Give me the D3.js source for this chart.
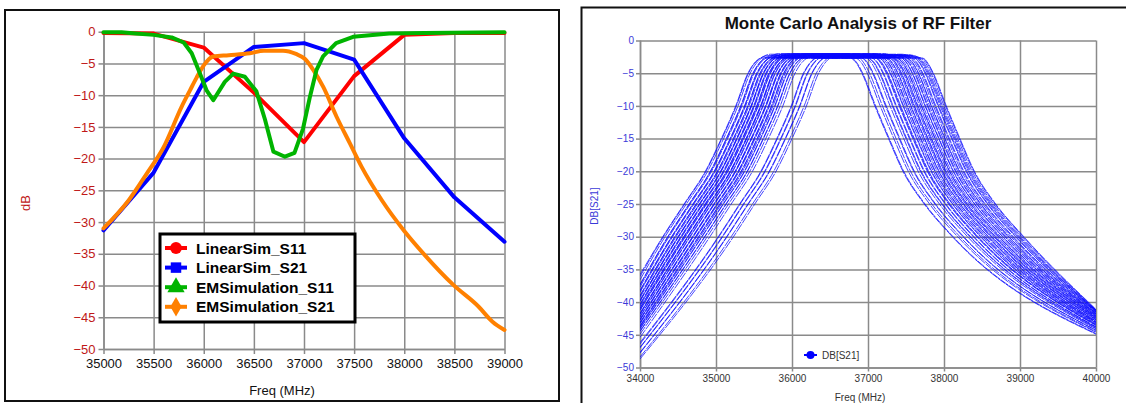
<!DOCTYPE html>
<html><head><meta charset="utf-8">
<script src="https://cdn.jsdelivr.net/npm/d3@7"></script>
<style>body{margin:0;background:#fff;} svg{display:block;font-family:Arial,"Liberation Sans",sans-serif;}</style>
</head><body><svg id="c" width="1126" height="403"></svg>
<script>
// ---------- Left chart data ----------
const linFreq = [35000, 35500, 36000, 36500, 37000, 37500, 38000, 38500, 39000];
const linS11 = [-0.2, -0.3, -2.5, -9.6, -17.4, -7.0, -0.5, -0.2, -0.2];
const linS21 = [-31.3, -22.2, -7.9, -2.4, -1.8, -4.4, -16.8, -26.1, -33.1];
const emS11Freq = [35000, 35180, 35320, 35500, 35680, 35800, 35880, 35960, 36030, 36095, 36210, 36295, 36410, 36525, 36610, 36695, 36810, 36905, 36990, 37060, 37125, 37190, 37320, 37490, 37850, 38200, 39000];
const emS11 = [-0.1, -0.1, -0.3, -0.5, -0.9, -1.7, -3.4, -6.5, -9.3, -10.8, -7.9, -6.6, -7.1, -9.4, -13.8, -18.9, -19.7, -19.1, -15.3, -10.2, -6.0, -3.9, -1.8, -0.8, -0.3, -0.2, -0.1];
const emS21Freq = [35000, 35250, 35430, 35600, 35780, 35864, 35930, 36000, 36094, 36250, 36460, 36600, 36790, 36920, 37010, 37092, 37192, 37325, 37458, 37575, 37778, 38000, 38205, 38490, 38740, 38880, 39000];
const emS21 = [-31.0, -26.6, -22.4, -18.2, -11.8, -9.2, -7.2, -5.3, -3.9, -3.7, -3.4, -3.0, -3.0, -3.5, -4.3, -6.0, -8.7, -13.4, -17.6, -21.3, -26.6, -31.4, -35.2, -39.9, -43.3, -45.7, -47.0];
const leftXTicks = [35000, 35500, 36000, 36500, 37000, 37500, 38000, 38500, 39000];
const leftYTicks = [0, -5, -10, -15, -20, -25, -30, -35, -40, -45, -50];
const legendNames = ["LinearSim_S11", "LinearSim_S21", "EMSimulation_S11", "EMSimulation_S21"];

// ---------- Right chart data (Monte Carlo traces) ----------
// skirt shapes (offset from each trace's -20 dB frequency)
const lowOffsets = [-560, -280, 0, 210, 400, 560, 640, 720];
const lowDb = [-30, -25, -20, -15, -10, -5, -3.5, -2.7];
const highOffsets = [-680, -610, -540, -370, -190, 0, 280, 650];
const highDb = [-2.7, -3.5, -5, -10, -15, -20, -25, -30];
// per-trace -20 dB frequency on the lower skirt, and value at 34000 MHz
const mcLowF20 = [34860, 34868, 34890, 34925, 34930, 34942, 34975, 34980, 34990, 35018, 35022, 35035, 35060, 35064, 35070, 35095, 35102, 35110, 35135, 35140, 35150, 35158, 35185, 35190, 35196, 35215, 35222, 35250, 35256, 35262, 35290, 35295, 35305, 35330, 35335, 35350, 35372, 35378, 35410, 35415, 35445, 35480, 35590, 35598, 35640, 35648, 35700, 35706, 35760, 35790];
const mcLowEdge = [-35.8, -36.1, -36.6, -37.3, -37.4, -37.7, -38.2, -38.3, -38.5, -39.0, -39.1, -39.3, -39.7, -39.8, -39.9, -40.3, -40.4, -40.6, -40.9, -41.0, -41.2, -41.3, -41.7, -41.8, -41.9, -42.2, -42.3, -42.6, -42.7, -42.8, -43.1, -43.2, -43.3, -43.6, -43.7, -43.8, -44.0, -44.1, -44.4, -44.5, -44.9, -45.4, -46.2, -46.4, -46.9, -47.0, -47.7, -47.8, -48.4, -48.7];
// per-trace -20 dB frequency on the upper skirt, and value at 40000 MHz
const mcHighF20 = [37460, 37470, 37530, 37560, 37600, 37610, 37660, 37690, 37700, 37735, 37745, 37780, 37790, 37800, 37830, 37838, 37860, 37880, 37888, 37910, 37930, 37936, 37960, 37975, 37982, 38005, 38020, 38028, 38050, 38070, 38076, 38095, 38120, 38126, 38150, 38160, 38180, 38200, 38206, 38230, 38250, 38262, 38290, 38300, 38320, 38335, 38350, 38370, 38390, 38400];
const mcHighEdge = [-44.9, -44.8, -44.6, -44.5, -44.3, -44.3, -44.1, -44.0, -43.9, -43.8, -43.8, -43.6, -43.5, -43.5, -43.4, -43.3, -43.2, -43.1, -43.1, -43.0, -42.9, -42.9, -42.7, -42.7, -42.6, -42.5, -42.4, -42.4, -42.3, -42.2, -42.2, -42.1, -42.0, -42.0, -41.9, -41.8, -41.8, -41.7, -41.7, -41.6, -41.5, -41.5, -41.4, -41.4, -41.3, -41.3, -41.3, -41.2, -41.2, -41.1];
// which upper skirt belongs to which trace
const mcHighOrder = [0, 25, 12, 37, 6, 31, 18, 43, 3, 28, 15, 40, 9, 34, 21, 46, 1, 26, 13, 38, 7, 32, 19, 44, 4, 29, 16, 41, 10, 35, 22, 47, 2, 27, 14, 39, 8, 33, 20, 45, 5, 30, 17, 42, 11, 36, 23, 48, 24, 49];
// passband top level of each trace
const mcTop = [-2.3, -2.1, -2.5, -2.2, -2.6, -2.4, -2.0, -2.3, -2.7, -2.2, -2.4, -2.1, -2.5, -2.3, -2.6, -2.2, -2.4, -2.0, -2.5, -2.3, -2.1, -2.6, -2.4, -2.2, -2.7, -2.3, -2.1, -2.5, -2.4, -2.2, -2.6, -2.3, -2.0, -2.4, -2.5, -2.2, -2.3, -2.6, -2.1, -2.4, -2.7, -2.3, -2.5, -2.5, -2.6, -2.6, -2.7, -2.5, -2.6, -2.7];
const rightXTicks = [34000, 35000, 36000, 37000, 38000, 39000, 40000];
const rightYTicks = [0, -5, -10, -15, -20, -25, -30, -35, -40, -45, -50];

const svg = d3.select('#c');
const GRID = '#8a8a8a';

// ================= LEFT CHART =================
svg.append('rect').attr('x', 5).attr('y', 10).attr('width', 554).attr('height', 391)
  .attr('fill', '#fff').attr('stroke', '#111').attr('stroke-width', 2);

const xL = d3.scaleLinear().domain([35000, 39000]).range([103.5, 504.5]);
const yL = d3.scaleLinear().domain([-50, 0]).range([349, 31.7]);

const gL = svg.append('g');
gL.append('g').attr('transform', `translate(0,${yL(-50)})`)
  .call(d3.axisBottom(xL).tickValues(leftXTicks).tickSize(-(yL(-50) - yL(0))).tickFormat(''))
  .call(g => { g.select('.domain').remove(); g.selectAll('line').attr('stroke', GRID).attr('stroke-width', 1.5); });
gL.append('g').attr('transform', `translate(${xL(35000)},0)`)
  .call(d3.axisLeft(yL).tickValues(leftYTicks).tickSize(-(xL(39000) - xL(35000))).tickFormat(''))
  .call(g => { g.select('.domain').remove(); g.selectAll('line').attr('stroke', GRID).attr('stroke-width', 1.5); });
gL.append('g').attr('transform', `translate(0,${yL(-50)})`)
  .call(d3.axisBottom(xL).tickValues(leftXTicks).tickSize(5).tickPadding(5).tickSizeOuter(0).tickFormat(d3.format('d')))
  .call(g => {
    g.select('.domain').attr('stroke', GRID).attr('stroke-width', 1.5);
    g.selectAll('line').attr('stroke', GRID).attr('stroke-width', 1.5);
    g.selectAll('text').attr('fill', '#111').attr('font-size', 13).attr('font-family', 'Arial, Liberation Sans, sans-serif');
  });
gL.append('g').attr('transform', `translate(${xL(35000)},0)`)
  .call(d3.axisLeft(yL).tickValues(leftYTicks).tickSize(5).tickPadding(3).tickSizeOuter(0).tickFormat(d3.format('d')))
  .call(g => {
    g.select('.domain').attr('stroke', GRID).attr('stroke-width', 1.5);
    g.selectAll('line').attr('stroke', GRID).attr('stroke-width', 1.5);
    g.selectAll('text').attr('fill', '#c01818').attr('font-size', 13).attr('font-family', 'Arial, Liberation Sans, sans-serif');
  });
gL.append('text').attr('x', 282).attr('y', 395).attr('text-anchor', 'middle')
  .attr('font-size', 13).attr('fill', '#111').text('Freq (MHz)');
gL.append('text').attr('transform', 'translate(30,203) rotate(-90)').attr('text-anchor', 'middle')
  .attr('font-size', 13).attr('fill', '#c01818').text('dB');

const lineL = (curve) => d3.line().x(d => xL(d[0])).y(d => yL(d[1])).curve(curve);
const seriesL = [
  { name: legendNames[0], color: '#ff0000', pts: d3.zip(linFreq, linS11), curve: d3.curveLinear, sym: d3.symbolCircle },
  { name: legendNames[1], color: '#0000ff', pts: d3.zip(linFreq, linS21), curve: d3.curveLinear, sym: d3.symbolSquare },
  { name: legendNames[2], color: '#00b400', pts: d3.zip(emS11Freq, emS11), curve: d3.curveLinear, sym: d3.symbolTriangle },
  { name: legendNames[3], color: '#ff8000', pts: d3.zip(emS21Freq, emS21), curve: d3.curveMonotoneX, sym: d3.symbolDiamond }
];
const drawOrder = [0, 1, 3, 2];
drawOrder.forEach(i => {
  const s = seriesL[i];
  gL.append('path').datum(s.pts).attr('d', lineL(s.curve)).attr('fill', 'none')
    .attr('stroke', s.color).attr('stroke-width', 4).attr('stroke-linejoin', 'round').attr('stroke-linecap', 'round');
});

const leg = gL.append('g');
leg.append('rect').attr('x', 160).attr('y', 234).attr('width', 195).attr('height', 88)
  .attr('fill', '#fff').attr('stroke', '#000').attr('stroke-width', 3);
seriesL.forEach((s, i) => {
  const y = 248 + i * 19.6;
  leg.append('line').attr('x1', 165).attr('x2', 187).attr('y1', y).attr('y2', y)
    .attr('stroke', s.color).attr('stroke-width', 4);
  leg.append('path').attr('transform', `translate(176,${y})`)
    .attr('d', d3.symbol().type(s.sym).size(s.sym === d3.symbolTriangle ? 130 : 110)()).attr('fill', s.color);
  leg.append('text').attr('x', 196).attr('y', y + 5.5).attr('font-size', 15.5).attr('font-weight', 'bold')
    .attr('fill', '#000').text(s.name);
});

// ================= RIGHT CHART =================
svg.append('rect').attr('x', 581.5).attr('y', 7.5).attr('width', 560).attr('height', 420)
  .attr('fill', '#fff').attr('stroke', '#111').attr('stroke-width', 2);

const xR = d3.scaleLinear().domain([34000, 40000]).range([640, 1096]);
const yR = d3.scaleLinear().domain([-50, 0]).range([367.5, 40.5]);
const gR = svg.append('g');
gR.append('g').attr('transform', `translate(0,${yR(-50)})`)
  .call(d3.axisBottom(xR).tickValues(rightXTicks).tickSize(-(yR(-50) - yR(0))).tickFormat(''))
  .call(g => { g.select('.domain').remove(); g.selectAll('line').attr('stroke', GRID).attr('stroke-width', 1.5); });
gR.append('g').attr('transform', `translate(${xR(34000)},0)`)
  .call(d3.axisLeft(yR).tickValues(rightYTicks).tickSize(-(xR(40000) - xR(34000))).tickFormat(''))
  .call(g => { g.select('.domain').remove(); g.selectAll('line').attr('stroke', GRID).attr('stroke-width', 1.5); });
gR.append('g').attr('transform', `translate(0,${yR(-50)})`)
  .call(d3.axisBottom(xR).tickValues(rightXTicks).tickSize(4).tickPadding(3.5).tickSizeOuter(0).tickFormat(d3.format('d')))
  .call(g => {
    g.select('.domain').attr('stroke', GRID).attr('stroke-width', 1.5);
    g.selectAll('line').attr('stroke', GRID).attr('stroke-width', 1.5);
    g.selectAll('text').attr('fill', '#333').attr('font-size', 10).attr('font-family', 'Arial, Liberation Sans, sans-serif');
  });
gR.append('g').attr('transform', `translate(${xR(34000)},0)`)
  .call(d3.axisLeft(yR).tickValues(rightYTicks).tickSize(4).tickPadding(2).tickSizeOuter(0).tickFormat(d3.format('d')))
  .call(g => {
    g.select('.domain').attr('stroke', GRID).attr('stroke-width', 1.5);
    g.selectAll('line').attr('stroke', GRID).attr('stroke-width', 1.5);
    g.selectAll('text').attr('fill', '#3a3ad8').attr('font-size', 10).attr('font-family', 'Arial, Liberation Sans, sans-serif');
  });
gR.append('text').attr('x', 858).attr('y', 29).attr('text-anchor', 'middle')
  .attr('font-size', 17).attr('font-weight', 'bold').attr('fill', '#111').text('Monte Carlo Analysis of RF Filter');
gR.append('text').attr('x', 860).attr('y', 401).attr('text-anchor', 'middle')
  .attr('font-size', 10).attr('fill', '#333').text('Freq (MHz)');
gR.append('text').attr('transform', 'translate(598,206) rotate(-90)').attr('text-anchor', 'middle')
  .attr('font-size', 10).attr('fill', '#3a3ad8').text('DB[S21]');

svg.append('clipPath').attr('id', 'clipR').append('rect')
  .attr('x', xR(34000)).attr('y', yR(0)).attr('width', xR(40000) - xR(34000)).attr('height', yR(-50) - yR(0) + 1);

const traces = mcLowF20.map((fl, i) => {
  const j = mcHighOrder[i];
  const fh = mcHighF20[j];
  const pts = [[34000, mcLowEdge[i]]];
  lowOffsets.forEach((o, k) => pts.push([fl + o, lowDb[k]]));
  pts.push([fl + 850, mcTop[i]]);
  pts.push([fh - 800, mcTop[i]]);
  highOffsets.forEach((o, k) => pts.push([fh + o, highDb[k]]));
  pts.push([40000, mcHighEdge[j]]);
  return pts;
});
const lineR = d3.line().x(d => xR(d[0])).y(d => yR(d[1])).curve(d3.curveMonotoneX);
gR.append('g').attr('clip-path', 'url(#clipR)').selectAll('path').data(traces).join('path')
  .attr('d', lineR).attr('fill', 'none').attr('stroke', '#0a0aff').attr('stroke-width', 0.75)
  .attr('stroke-dasharray', '9,1');

gR.append('line').attr('x1', 804).attr('x2', 817).attr('y1', 355).attr('y2', 355).attr('stroke', '#0000ff').attr('stroke-width', 2);
gR.append('circle').attr('cx', 810.5).attr('cy', 355).attr('r', 4).attr('fill', '#0000ff');
gR.append('text').attr('x', 822).attr('y', 358.5).attr('font-size', 10).attr('fill', '#333').text('DB[S21]');
</script>
</body></html>
